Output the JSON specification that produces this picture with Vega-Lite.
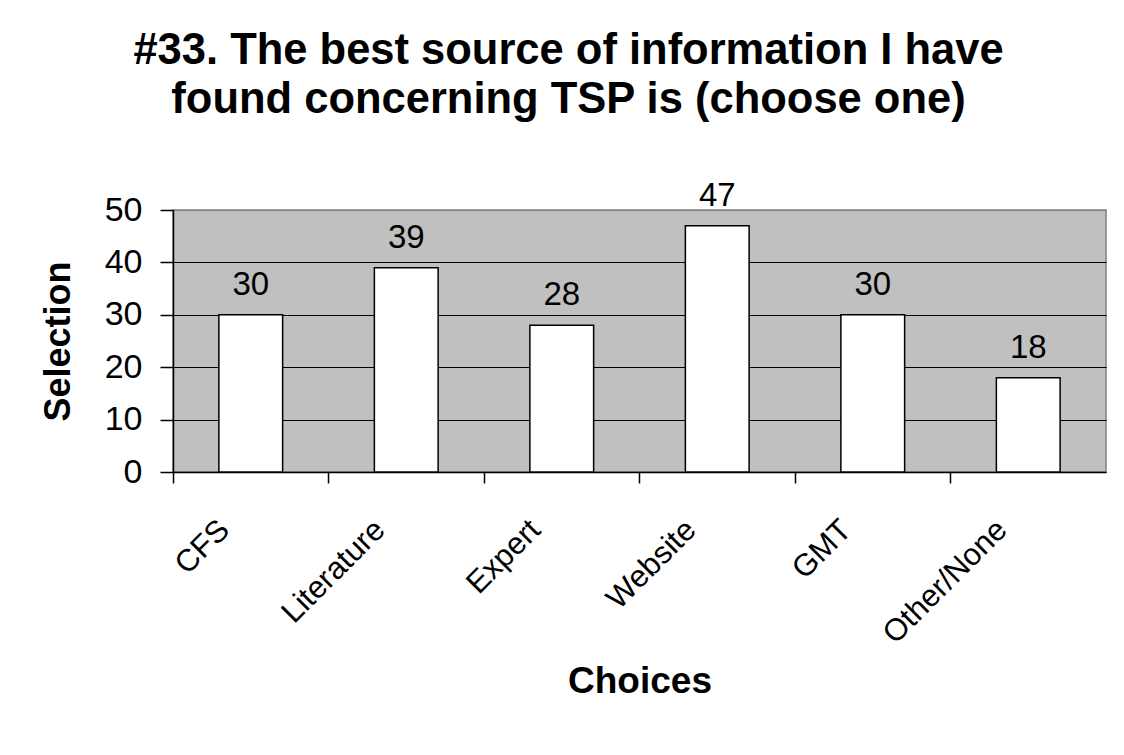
{
  "$schema": "https://vega.github.io/schema/vega-lite/v6.json",
  "autosize": {"type": "none"},
  "width": 933,
  "height": 262,
  "padding": {"left": 173, "top": 210, "right": 18, "bottom": 283},
  "background": "white",
  "config": {
    "font": "Liberation Sans",
    "view": {"fill": "#C0C0C0", "stroke": "#808080", "strokeWidth": 1.5}
  },
  "title": {
    "text": ["#33. The best source of information I have", "found concerning TSP is (choose one)"],
    "fontSize": 43.5,
    "fontWeight": "bold",
    "font": "Liberation Sans",
    "color": "black",
    "lineHeight": 49,
    "anchor": "middle",
    "frame": "group",
    "dx": -71,
    "offset": 57
  },
  "data": {
    "values": [
      {"choice": "CFS", "selection": 30},
      {"choice": "Literature", "selection": 39},
      {"choice": "Expert", "selection": 28},
      {"choice": "Website", "selection": 47},
      {"choice": "GMT", "selection": 30},
      {"choice": "Other/None", "selection": 18}
    ]
  },
  "layer": [
    {
      "mark": {"type": "bar", "fill": "white", "stroke": "black", "strokeWidth": 1.5, "width": {"band": 0.41}},
      "encoding": {
        "x": {
          "field": "choice",
          "type": "nominal",
          "sort": null,
          "scale": {"paddingInner": 0, "paddingOuter": 0},
          "axis": {
            "title": "Choices",
            "titleFontSize": 37,
            "titleFontWeight": "bold",
            "titleColor": "black",
            "titlePadding": 15,
            "labelAngle": -45,
            "labelAlign": "right",
            "labelBaseline": "middle",
            "labelFontSize": 31,
            "labelColor": "black",
            "labelPadding": 42,
            "labelOffset": -26,
            "labelOverlap": false,
            "bandPosition": 0,
            "tickSize": 11,
            "tickColor": "black",
            "tickWidth": 1.5,
            "domainColor": "black",
            "domainWidth": 1.5,
            "grid": false
          }
        },
        "y": {
          "field": "selection",
          "type": "quantitative",
          "scale": {"domain": [0, 50], "nice": false},
          "axis": {
            "title": "Selection",
            "titleFontSize": 36,
            "titleFontWeight": "bold",
            "titleColor": "black",
            "titlePadding": 27,
            "values": [0, 10, 20, 30, 40, 50],
            "labelFontSize": 34,
            "labelColor": "black",
            "labelPadding": 18,
            "tickSize": 13,
            "tickColor": "black",
            "tickWidth": 1.5,
            "domainColor": "black",
            "domainWidth": 1.5,
            "grid": true,
            "gridColor": {"condition": {"test": "datum.value == 50", "value": "#808080"}, "value": "black"},
            "gridWidth": 1.2
          }
        }
      }
    },
    {
      "mark": {"type": "text", "fontSize": 33, "baseline": "alphabetic", "dy": -20, "color": "black"},
      "encoding": {
        "x": {"field": "choice", "type": "nominal", "sort": null},
        "y": {"field": "selection", "type": "quantitative"},
        "text": {"field": "selection", "type": "quantitative"}
      }
    }
  ]
}
